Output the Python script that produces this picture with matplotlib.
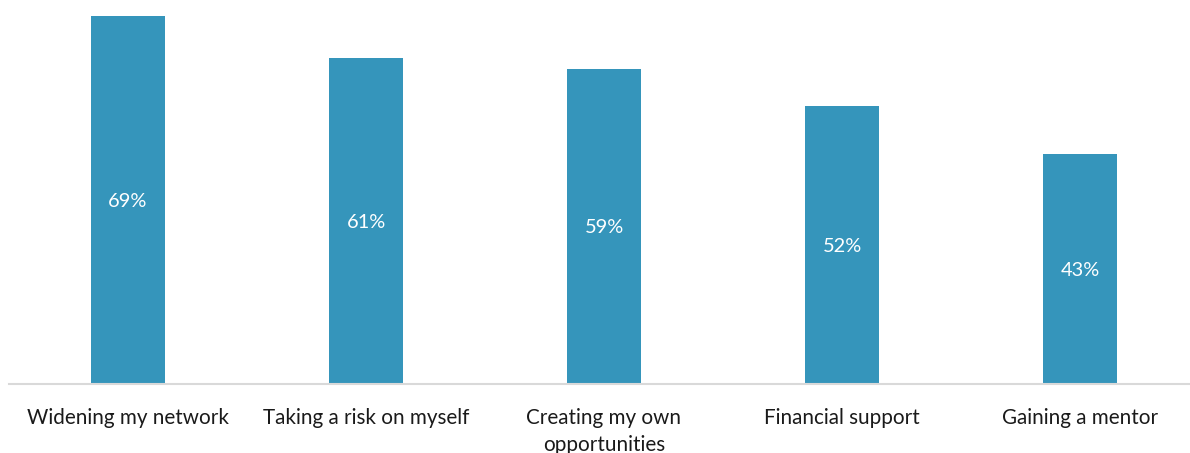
import numpy as np
import matplotlib.pyplot as plt

plt.rcParams['font.family'] = ['Lato', 'DejaVu Sans']

categories = ['Widening my network', 'Taking a risk on myself',
              'Creating my own\nopportunities', 'Financial support',
              'Gaining a mentor']
shares = [69, 61, 59, 52, 43]

bar_color = '#3595bb'

fig = plt.figure(figsize=(11.90, 4.53), dpi=100)
ax = fig.add_axes([9 / 1190, 69 / 453, 1190 / 1190, 370 / 453])

x = np.arange(len(categories))
bars = ax.bar(x, shares, width=0.315, color=bar_color)

# percentage label in the middle of each bar
for xi, v in zip(x, shares):
    ax.text(xi, v / 2, f'{v}%', ha='center', va='center_baseline',
            color='white', fontsize=14.4)

ax.set_xlim(-0.5, len(categories) - 0.5)
ax.set_ylim(0, 69.3)
ax.set_xticks(x)
ax.set_xticklabels(categories, fontsize=14.9, color='#1a1a1a',
                   linespacing=1.45)
ax.tick_params(axis='x', length=0, pad=17)
ax.set_yticks([])

for side in ['top', 'right', 'left']:
    ax.spines[side].set_visible(False)
ax.spines['bottom'].set_color('#d9d9d9')
ax.spines['bottom'].set_linewidth(1.5)

fig.savefig('out.png', dpi=100)
